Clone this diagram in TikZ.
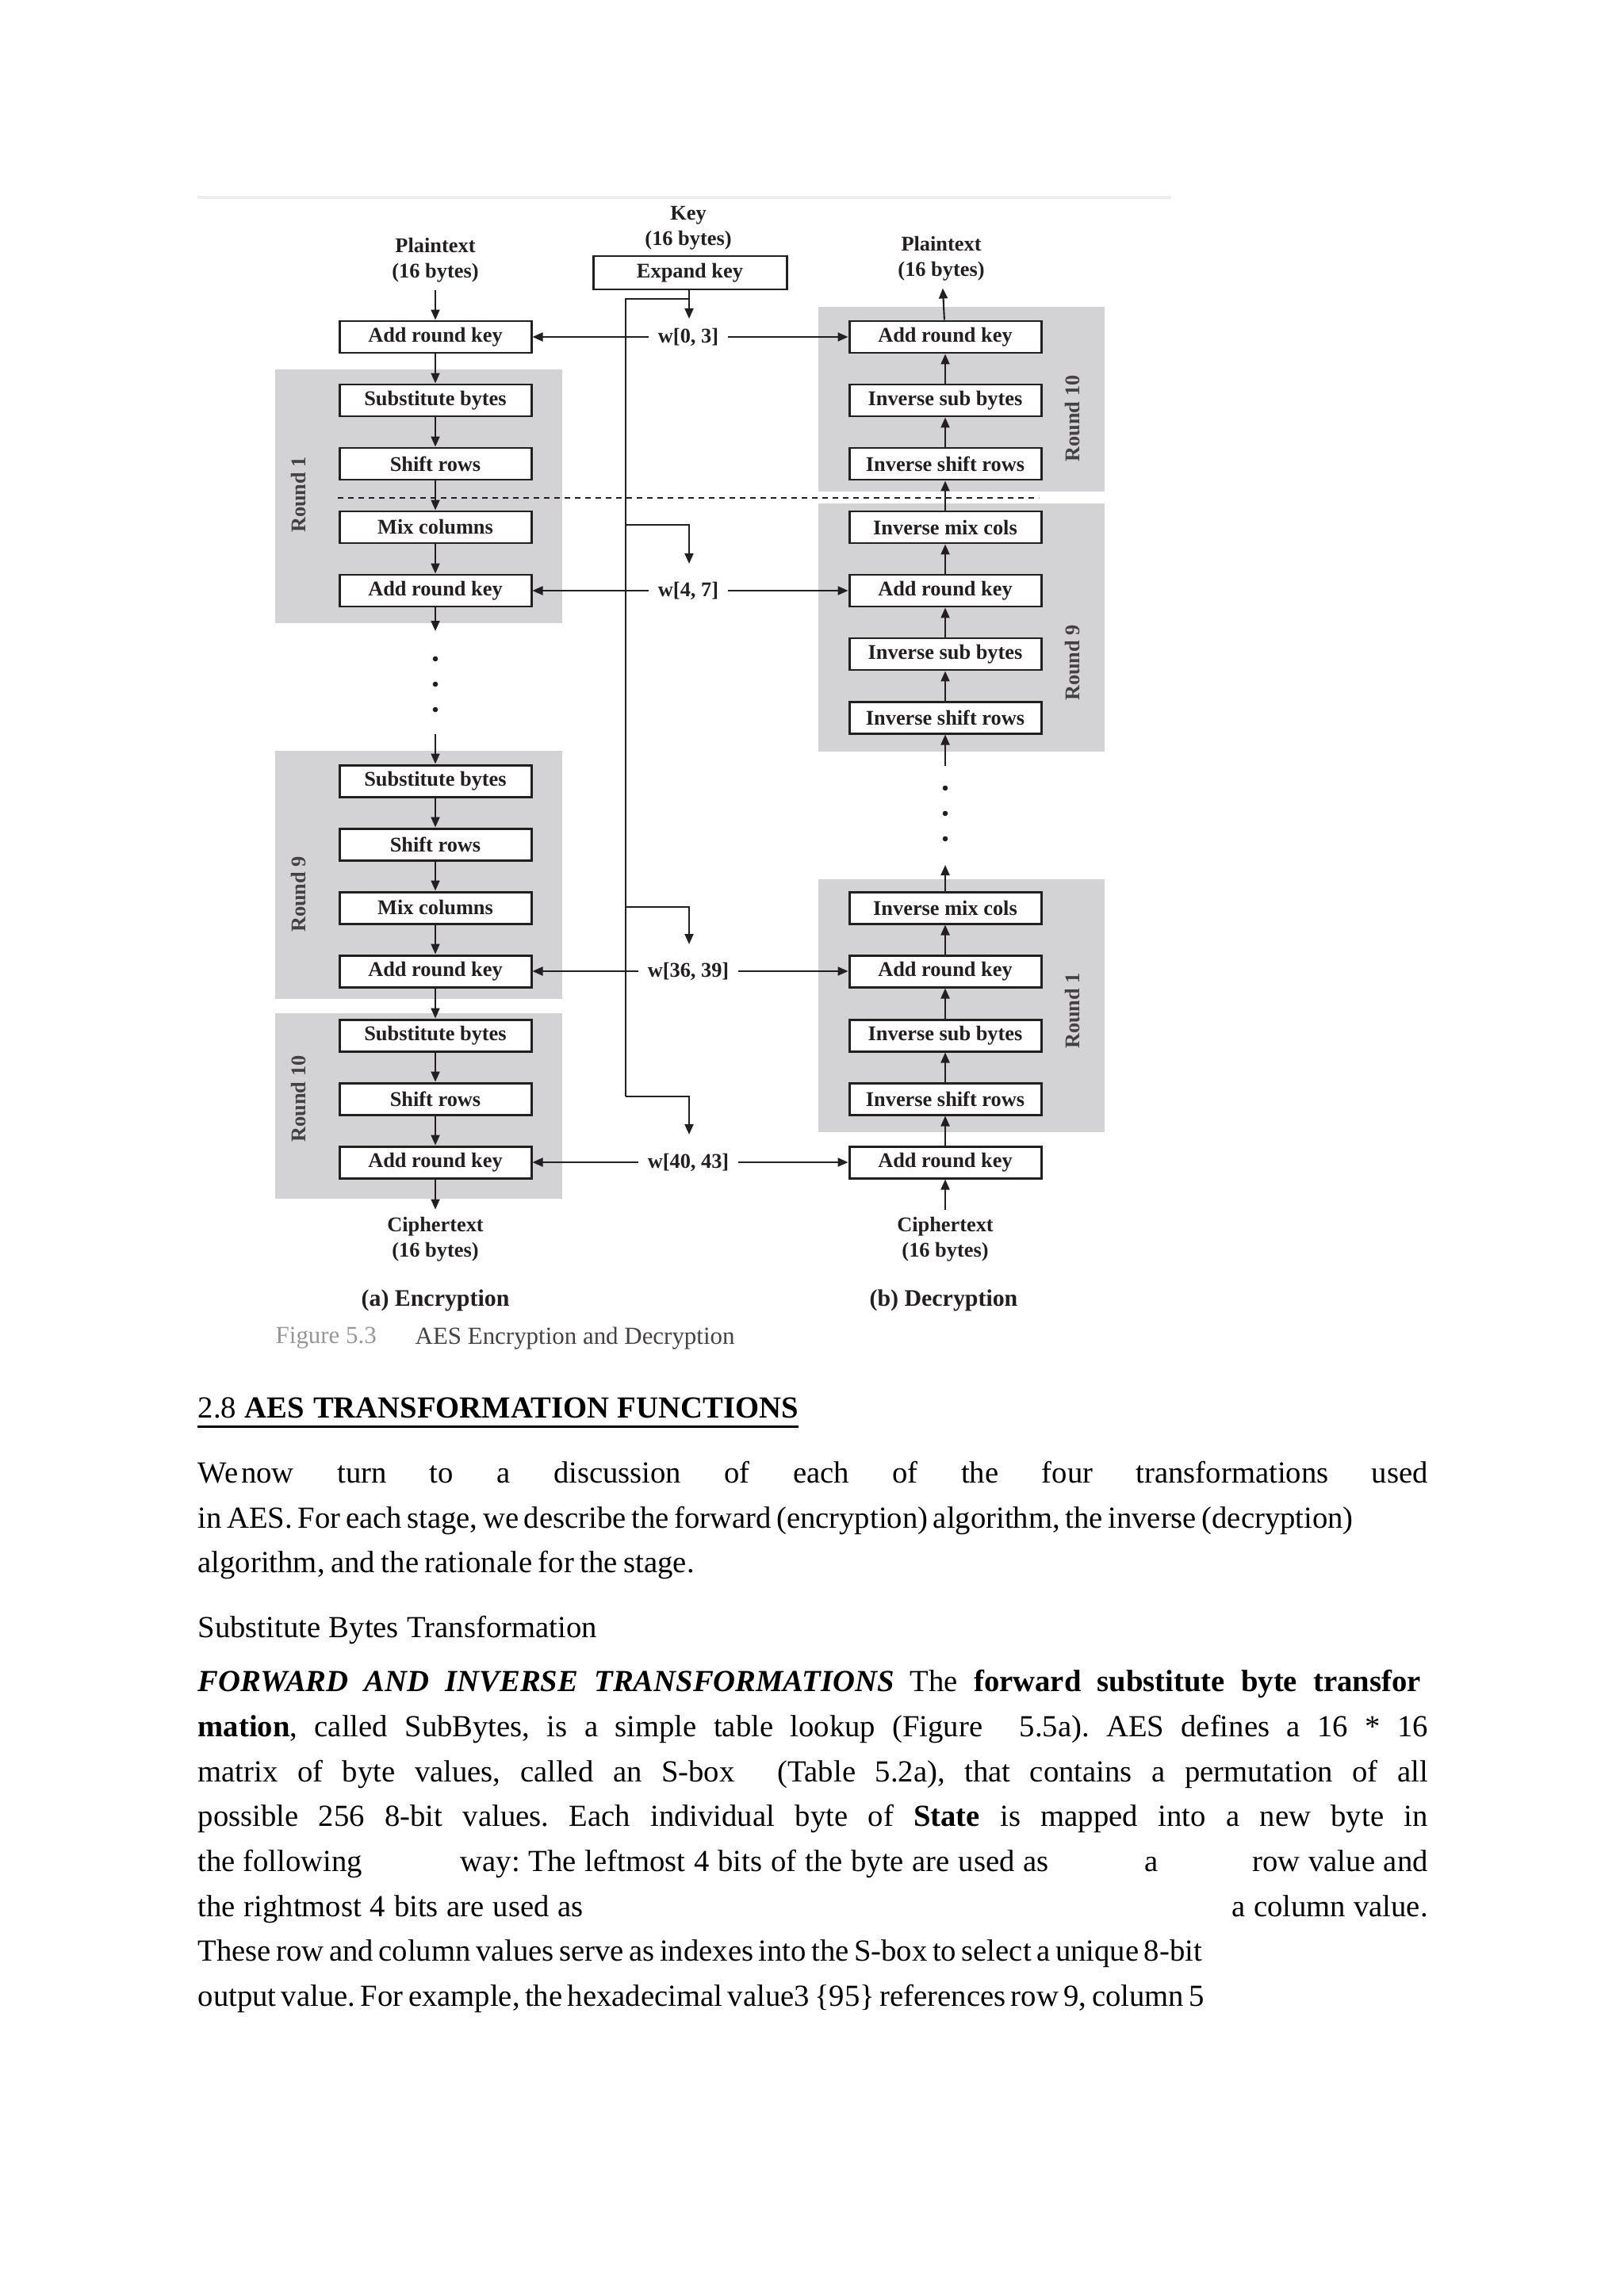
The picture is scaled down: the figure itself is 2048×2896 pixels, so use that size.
\documentclass[tikz,border=0pt]{standalone}
\usepackage{fontspec}
\setmainfont{Liberation Serif}
\usetikzlibrary{arrows.meta, calc, positioning}

\definecolor{cinzaRodada}{RGB}{211,211,213}
\definecolor{tinta}{RGB}{35,31,32}
\definecolor{cinzaFig}{RGB}{150,150,150}

\newcommand{\fig}{\fontsize{7.5}{9}\selectfont\bfseries}
\newcommand{\corpo}{\fontsize{11}{13}\selectfont\frenchspacing\spaceskip=0.25em plus 3em minus 0.2em\relax}
\newcommand{\linha}[2]{\makebox[#1][s]{#2}}

\begin{document}
\begin{tikzpicture}[
    x=0.1mm, y=-0.1mm,
    caixa/.style={draw=tinta, line width=0.85pt, fill=white, minimum width=24.2mm,
        minimum height=4mm, inner sep=0pt, text=tinta, font=\fig},
    rotulo/.style={align=center, inner sep=0.9mm, text=tinta, font=\fig},
    chave/.style={inner xsep=1.1mm, inner ysep=0.5mm, text=tinta, font=\fig},
    rodada/.style={rotate=90, text=tinta!85, font=\fig},
    seta/.style={-{Triangle[length=1.3mm, width=1.1mm]}, line width=0.6pt, draw=tinta},
    fio/.style={line width=0.6pt, draw=tinta},
    texto/.style={anchor=base west, inner sep=0pt, font=\corpo}
]
    \useasboundingbox (0,0) rectangle (2048,2896);

    % 1. Borda clara da figura e fundos cinza das rodadas
    \draw[black!7, line width=0.4mm] (249,249) -- (1477,249);
    \fill[cinzaRodada] (347,466) rectangle (709,786);
    \fill[cinzaRodada] (347,947) rectangle (709,1260);
    \fill[cinzaRodada] (347,1278) rectangle (709,1512);
    \fill[cinzaRodada] (1032,387) rectangle (1393,620);
    \fill[cinzaRodada] (1032,635) rectangle (1393,948);
    \fill[cinzaRodada] (1032,1109) rectangle (1393,1428);

    % 2. Linha tracejada entre as rodadas
    \coordinate (tr1) at (426,628);
    \coordinate (tr2) at (1310,628);
    \draw[tinta, line width=0.45pt, dash pattern=on 0.7mm off 0.6mm] (tr1) -- (tr2);

    % 3. Coluna da cifragem
    \foreach \y/\nome/\txt in {425/e0/Add round key, 505/e1/Substitute bytes,
        585/e2/Shift rows, 665/e3/Mix columns, 745/e4/Add round key,
        985/e5/Substitute bytes, 1065/e6/Shift rows, 1145/e7/Mix columns,
        1225/e8/Add round key, 1306/e9/Substitute bytes, 1386/e10/Shift rows,
        1466/e11/Add round key}
        \node[caixa] (\nome) at (549,\y) {\txt};

    % 4. Coluna da decifragem
    \foreach \y/\nome/\txt in {425/d0/Add round key, 505/d1/Inverse sub bytes,
        585/d2/Inverse shift rows, 665/d3/Inverse mix cols, 745/d4/Add round key,
        825/d5/Inverse sub bytes, 905/d6/Inverse shift rows, 1145/d7/Inverse mix cols,
        1225/d8/Add round key, 1306/d9/Inverse sub bytes, 1386/d10/Inverse shift rows,
        1466/d11/Add round key}
        \node[caixa] (\nome) at (1192,\y) {\txt};

    % 5. Setas entre as etapas
    \foreach \a/\b in {e0/e1, e1/e2, e2/e3, e3/e4, e5/e6, e6/e7, e7/e8, e8/e9, e9/e10, e10/e11,
        d1/d0, d2/d1, d3/d2, d4/d3, d5/d4, d6/d5, d8/d7, d9/d8, d10/d9, d11/d10}
        \draw[seta] (\a) -- (\b);

    % 6. Reticencias e setas soltas
    \coordinate (pe1) at (549,796);
    \coordinate (pe2) at (549,926);
    \coordinate (pd1) at (1192,966);
    \coordinate (pd2) at (1192,1091);
    \draw[seta] (e4) -- (pe1);
    \draw[seta] (pe2) -- (e5);
    \draw[seta] (pd1) -- (d6);
    \draw[seta] (d7) -- (pd2);
    \foreach \y in {831,863,895} \fill[tinta] (549,\y) circle (0.33mm);
    \foreach \y in {994,1026,1058} \fill[tinta] (1192,\y) circle (0.33mm);

    % 7. Rotulos das rodadas
    \node[rodada] (r1e) at (377,624) {Round 1};
    \node[rodada] (r9e) at (377,1128) {Round 9};
    \node[rodada] (r10e) at (377,1386) {Round 10};
    \node[rodada] (r10d) at (1352,528) {Round 10};
    \node[rodada] (r9d) at (1352,836) {Round 9};
    \node[rodada] (r1d) at (1352,1275) {Round 1};

    % 8. Entradas e saidas
    \node[rotulo] (pl) at (549,328) {Plaintext\\(16 bytes)};
    \node[rotulo] (pr) at (1187,326) {Plaintext\\(16 bytes)};
    \node[rotulo] (cl) at (549,1563) {Ciphertext\\(16 bytes)};
    \node[rotulo] (cr) at (1192,1563) {Ciphertext\\(16 bytes)};
    \draw[seta] (pl) -- (e0);
    \draw[seta] (d0) -- (pr);
    \draw[seta] (e11) -- (cl);
    \draw[seta] (cr) -- (d11);

    % 9. Chave e expansao
    \node[rotulo] (key) at (868,288) {Key\\(16 bytes)};
    \node[caixa, minimum width=24.4mm, minimum height=4.2mm] (expandir) at (870,344) {Expand key};
    \node[chave] (w0) at (868,425) {w[0, 3]};
    \node[chave] (w1) at (868,745) {w[4, 7]};
    \node[chave] (w2) at (868,1225) {w[36, 39]};
    \node[chave] (w3) at (868,1466) {w[40, 43]};

    \coordinate (t0) at (869,402);
    \coordinate (k0) at (869,377);
    \coordinate (kx) at (789,377);
    \coordinate (b1) at (789,662);
    \coordinate (b2) at (789,1144);
    \coordinate (b3) at (789,1383);
    \coordinate (t1) at (869,711);
    \coordinate (t2) at (869,1191);
    \coordinate (t3) at (869,1431);

    \draw[seta] (expandir.south -| t0) -- (t0);
    \draw[fio] (k0) -- (kx) -- (b3);
    \draw[seta] (b1) -| (t1);
    \draw[seta] (b2) -| (t2);
    \draw[seta] (b3) -| (t3);

    % 10. Chaves de rodada para os dois lados
    \foreach \w/\e/\d in {w0/e0/d0, w1/e4/d4, w2/e8/d8, w3/e11/d11} {
        \draw[seta] (\w) -- (\e);
        \draw[seta] (\w) -- (\d);
    }

    % 11. Subtitulos e legenda
    \node[text=tinta, font=\fontsize{8.5}{10}\selectfont\bfseries] (sa) at (549,1640) {(a) Encryption};
    \node[text=tinta, font=\fontsize{8.5}{10}\selectfont\bfseries] (sb) at (1190,1640) {(b) Decryption};
    \node[anchor=west, inner sep=0pt, text=cinzaFig, font=\fontsize{8.8}{10}\selectfont] (leg1) at (347,1688) {Figure 5.3};
    \node[anchor=west, inner sep=0pt, text=tinta!85, font=\fontsize{8.8}{10}\selectfont] (leg2) at (523,1688) {AES Encryption and Decryption};

    % 12. Texto da pagina
    \node[texto] (titulo) at (249,1788) {\linha{75.7mm}{2.8 \textbf{AES TRANSFORMATION FUNCTIONS}}};
    \draw[line width=0.3mm] ($(titulo.base west)+(0,11)$) -- ($(titulo.base east)+(0,11)$);

    \node[texto] (l1) at (249,1870) {\linha{155.1mm}{We\hspace{0.4mm}now turn to a discussion of each of the four transformations used}};
    \node[texto] (l2) at (249,1927) {\linha{145.7mm}{in AES. For each stage, we describe the forward (encryption) algorithm, the inverse (decryption)}};
    \node[texto] (l3) at (249,1983) {\linha{62.6mm}{algorithm, and the rationale for the stage.}};
    \node[texto] (sub) at (249,2065) {\linha{50.3mm}{Substitute Bytes Transformation}};

    \node[texto] (p1) at (249,2133) {\linha{154.2mm}{\textbf{\textit{FORWARD AND INVERSE TRANSFORMATIONS}} The \textbf{forward substitute byte transfor}}};
    \node[texto] (p2) at (249,2190) {\linha{155.1mm}{\textbf{mation}, called SubBytes, is a simple table lookup (Figure\hspace{2.5mm} 5.5a). AES defines a 16 * 16}};
    \node[texto] (p3) at (249,2247) {\linha{155.1mm}{matrix of byte values, called an S-box\hspace{3mm} (Table 5.2a), that contains a permutation of all}};
    \node[texto] (p4) at (249,2303) {\linha{155.1mm}{possible 256 8-bit values. Each individual byte of \textbf{State} is mapped into a new byte in}};
    \node[texto] (p5a) at (249,2360) {\linha{20.7mm}{the following}};
    \node[texto] (p5b) at (580,2360) {\linha{74.2mm}{way: The leftmost 4 bits of the byte are used as}};
    \node[texto] (p5c) at (1443,2360) {a};
    \node[texto] (p5d) at (1579,2360) {\linha{22.1mm}{row value and}};
    \node[texto] (p6a) at (249,2417) {\linha{48.6mm}{the rightmost 4 bits are used as}};
    \node[texto] (p6b) at (1553,2417) {\linha{24.7mm}{a column value.}};
    \node[texto] (p7) at (249,2473) {\linha{126.6mm}{These row and column values serve as indexes into the S-box to select a unique 8-bit}};
    \node[texto] (p8) at (249,2530) {\linha{126.9mm}{output value. For example, the hexadecimal value3 \{95\} references row 9, column 5}};

\end{tikzpicture}
\end{document}
